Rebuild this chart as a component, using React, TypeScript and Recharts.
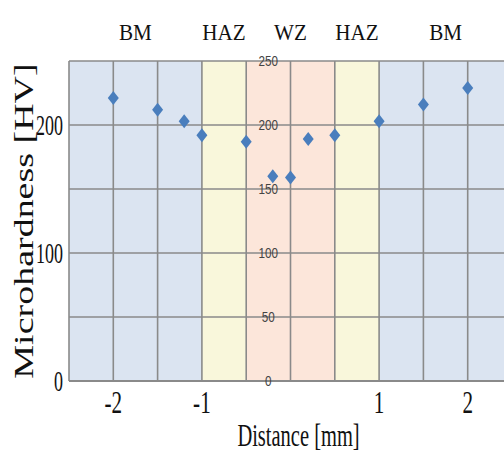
import React from "react";
import {
  ScatterChart,
  Scatter,
  XAxis,
  YAxis,
  CartesianGrid,
  ReferenceArea,
  LabelList,
} from "recharts";

const distance = [-2, -1.5, -1.2, -1, -0.5, -0.2, 0, 0.2, 0.5, 1, 1.5, 2];
const hardness = [221, 212, 203, 192, 187, 160, 159, 189, 192, 203, 216, 229];

const regionNames = ["BM", "HAZ", "WZ", "HAZ", "BM"];
const regionStart = [-2.5, -1, -0.5, 0.5, 1];
const regionEnd = [-1, -0.5, 0.5, 1, 2.5];

const xTicks = [-2.5, -2, -1.5, -1, -0.5, 0, 0.5, 1, 1.5, 2, 2.5];
const xTickLabels = [-2, -1, 1, 2];
const yTicks = [0, 50, 100, 150, 200, 250];
const yTickLabels = [0, 100, 200];
const innerTickX = -0.25;

const REGION_COLORS: Record<string, string> = {
  BM: "#dbe4f1",
  HAZ: "#f9f7db",
  WZ: "#fce6da",
};
const SERIF = "'Liberation Serif', 'Times New Roman', serif";
const GRID = "#8a8a8a";

const points = distance.map((d, i) => ({ x: d, y: hardness[i] }));
const innerLabels = yTicks.map((v) => ({ x: innerTickX, y: v }));

// text squeezed sideways, like the scanned original
const Squish = ({ x, y, sx = 0.7, size, anchor = "middle", rotate = 0, fill = "#111", family = SERIF, children }: any) => (
  <text
    transform={`translate(${x},${y}) scale(${sx},1) rotate(${rotate})`}
    textAnchor={anchor}
    fontSize={size}
    fontFamily={family}
    fill={fill}
  >
    {children}
  </text>
);

const XTick = ({ x, y, payload }: any) =>
  xTickLabels.includes(payload.value) ? (
    <Squish x={x} y={y + 24} size={32} sx={0.66}>
      {payload.value}
    </Squish>
  ) : null;

const YTick = ({ x, y, payload }: any) =>
  yTickLabels.includes(payload.value) ? (
    <Squish x={x} y={y + 10} size={30} sx={0.6} anchor="end">
      {payload.value}
    </Squish>
  ) : null;

const Diamond = ({ cx, cy }: any) => (
  <path d={`M${cx},${cy - 7}L${cx + 5.5},${cy}L${cx},${cy + 7}L${cx - 5.5},${cy}Z`} fill="#4a7ebd" />
);

const App = () => (
  <div style={{ position: "absolute", left: 0, top: 0, width: 504, height: 452, overflow: "hidden", background: "#fff" }}>
    <ScatterChart width={520} height={452} margin={{ top: 61, right: 8, bottom: 0, left: 0 }}>
      {regionNames.map((name, i) => (
        <ReferenceArea
          key={i}
          x1={regionStart[i]}
          x2={regionEnd[i]}
          y1={0}
          y2={250}
          fill={REGION_COLORS[name]}
          fillOpacity={1}
          stroke="none"
          zIndex={-300}
          label={(p: any) => (
            <Squish x={p.viewBox.x + p.viewBox.width / 2} y={p.viewBox.y - 21} size={24} sx={0.88}>
              {name}
            </Squish>
          )}
        />
      ))}
      <CartesianGrid stroke={GRID} strokeWidth={1.6} zIndex={-100} />
      <XAxis
        type="number"
        dataKey="x"
        domain={[-2.5, 2.5]}
        ticks={xTicks}
        interval={0}
        height={71}
        tickLine={false}
        axisLine={{ stroke: GRID, strokeWidth: 2 }}
        tick={<XTick />}
        allowDataOverflow
        label={(p: any) => (
          <Squish x={p.viewBox.x + p.viewBox.width / 2 + 8} y={446} size={32} sx={0.64}>
            Distance [mm]
          </Squish>
        )}
      />
      <YAxis
        type="number"
        dataKey="y"
        domain={[0, 250]}
        ticks={yTicks}
        interval={0}
        width={69}
        tickSize={0}
        tickMargin={6}
        tickLine={false}
        axisLine={false}
        tick={<YTick />}
        label={(p: any) => (
          <Squish x={33} y={p.viewBox.y + p.viewBox.height / 2} size={38} sx={0.7} rotate={-90}>
            Microhardness [HV]
          </Squish>
        )}
      />
      <Scatter data={innerLabels} shape={() => <g />} isAnimationActive={false}>
        <LabelList
          dataKey="y"
          content={(p: any) => (
            <Squish x={p.x + (p.width || 0) / 2} y={p.y + (p.height || 0) / 2 + 5} size={15} sx={0.78} fill="#444" family="'Liberation Sans', Arial, sans-serif">
              {p.value}
            </Squish>
          )}
        />
      </Scatter>
      <Scatter data={points} shape={<Diamond />} isAnimationActive={false} />
    </ScatterChart>
  </div>
);

export default App;
